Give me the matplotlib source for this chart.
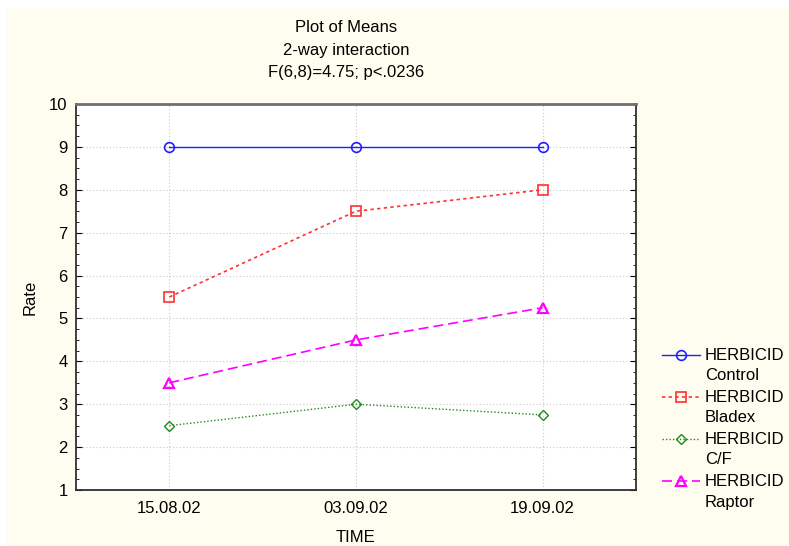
import matplotlib
matplotlib.use("Agg")
import matplotlib.pyplot as plt
from matplotlib.lines import Line2D
from matplotlib.patches import Rectangle
from matplotlib.ticker import MultipleLocator

plt.rcParams['font.family'] = ['Liberation Sans', 'DejaVu Sans']

times = ["15.08.02", "03.09.02", "19.09.02"]
series_names = ["Control", "Bladex", "C/F", "Raptor"]
control = [9, 9, 9]
bladex = [5.5, 7.5, 8]
cf = [2.5, 3, 2.75]
raptor = [3.5, 4.5, 5.25]

values = [control, bladex, cf, raptor]
styles = [
    dict(color='#2020FF', ls='-', marker='o', ms=7, lw=1.0, mew=1.2),
    dict(color='#FF3030', ls=(0, (2, 2)), marker='s', ms=7, lw=1.2, mew=1.2),
    dict(color='#208A20', ls=(0, (1, 1.5)), marker='D', ms=5, lw=1.0, mew=1.0),
    dict(color='#FF00FF', ls=(0, (6, 3)), marker='^', ms=7, lw=1.2, mew=1.6),
]

FS = 12

fig = plt.figure(figsize=(7.89, 5.46), dpi=100)
fig.patch.set_facecolor('white')
fig.add_artist(Rectangle((7/789, 0), 1 - 7/789, 1 - 8/546, transform=fig.transFigure,
                         facecolor='#FFFDF0', edgecolor='none', zorder=-10))

ax = fig.add_axes([76/789, 1 - 490/546, (636 - 76)/789, (490 - 104)/546])
ax.set_facecolor('white')

x = list(range(len(times)))
for vals, st in zip(values, styles):
    ax.plot(x, vals, color=st['color'], ls=st['ls'], lw=st['lw'], marker=st['marker'],
            ms=st['ms'], mfc='none', mec=st['color'], mew=st['mew'], zorder=3)

ax.set_xlim(-0.5, 2.5)
ax.set_ylim(1, 10)
ax.set_xticks(x)
ax.set_xticklabels(times)
ax.yaxis.set_major_locator(MultipleLocator(1))
ax.yaxis.set_minor_locator(MultipleLocator(0.25))
ax.tick_params(axis='y', which='both', direction='in', left=True, right=True, labelsize=FS)
ax.tick_params(axis='y', which='major', length=4, pad=6)
ax.tick_params(axis='y', which='minor', length=2.5)
ax.tick_params(axis='x', which='both', length=0, labelsize=FS, pad=8)
ax.grid(True, which='major', color='#C8C8C8', ls=(0, (1, 2)), lw=0.8)
for s in ax.spines.values():
    s.set_color('#303030')
    s.set_linewidth(1.3)
ax.spines['top'].set_color('#707070')
ax.spines['top'].set_linewidth(2)

ax.set_xlabel("TIME", fontsize=FS, labelpad=10)
ax.set_ylabel("Rate", fontsize=FS, labelpad=8)

fig.text(346/789, 1 - 27/546, "Plot of Means", ha='center', va='center', fontsize=FS)
fig.text(346/789, 1 - 50/546, "2-way interaction", ha='center', va='center', fontsize=FS)
fig.text(346/789, 1 - 73/546, "F(6,8)=4.75; p<.0236", ha='center', va='center', fontsize=FS)

# legend
x0, x1 = 662/789, 700/789
for i, (name, st) in enumerate(zip(series_names, styles)):
    yp = 1 - (355 + 42 * i) / 546
    fig.add_artist(Line2D([x0, (x0 + x1) / 2, x1], [yp, yp, yp], transform=fig.transFigure,
                          color=st['color'], ls=st['ls'], lw=st['lw'], marker=st['marker'],
                          ms=st['ms'], mfc='none', mec=st['color'], mew=st['mew'], markevery=[1]))
    fig.text(705/789, yp, "HERBICID", ha='left', va='center', fontsize=FS)
    fig.text(705/789, yp - 21/546, name, ha='left', va='center', fontsize=FS)

fig.savefig("out.png", dpi=100)
